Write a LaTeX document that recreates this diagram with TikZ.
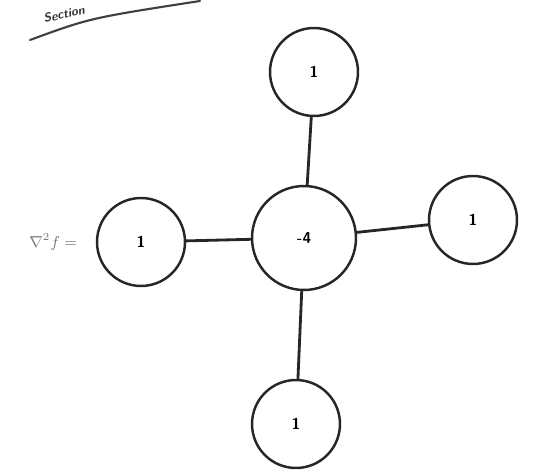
\documentclass[tikz,border=0pt]{standalone}
\usepackage{amsmath}
\usepackage{tikz}
\usetikzlibrary{positioning}

\begin{document}
\begin{tikzpicture}[
    x=0.02cm, y=-0.02cm,
    line cap=round, line join=round,
    %% --- styles ---
    cell/.style     = {circle, draw=black!85, line width=1.4pt,
                       minimum size=1.76cm, inner sep=0pt,
                       font=\sffamily\bfseries\small},
    centercell/.style = {cell, minimum size=2.08cm},
    link/.style     = {draw=black!85, line width=1.6pt},
    margintext/.style = {font=\small, text=black!55}
]
\useasboundingbox (0,0) rectangle (537,472);

%% page header fragment
\node[font=\sffamily\bfseries\itshape\scriptsize, rotate=13, text=black!80]
    (SEC) at (64,14) {Section};
\draw[line width=1.2pt, black!75] (30,40) .. controls (90,18) .. (200,1);

%% stencil cells
\node[centercell] (MID) at (304,238) {-4};
\node[cell] (TOP)   at (314,72)  {1};
\node[cell] (LEFT)  at (141,242) {1};
\node[cell] (RIGHT) at (473,220) {1};
\node[cell] (BOT)   at (296,424) {1};

%% connectors
\draw[link] (MID) -- (TOP);
\draw[link] (MID) -- (LEFT);
\draw[link] (MID) -- (RIGHT);
\draw[link] (MID) -- (BOT);

%% operator label
\node[margintext, left=0.25cm of LEFT] (OP) {$\nabla^2 f =$};

\end{tikzpicture}
\end{document}
